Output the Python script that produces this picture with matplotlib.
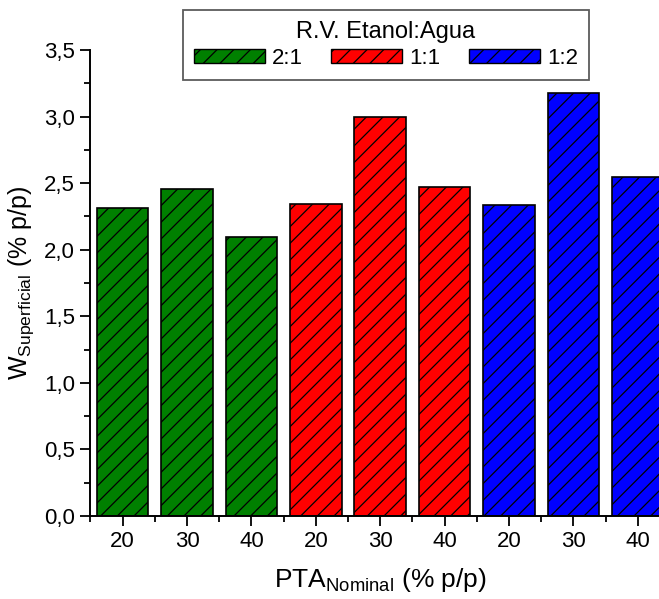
import matplotlib
matplotlib.use("Agg")
import matplotlib.pyplot as plt
from matplotlib.ticker import MultipleLocator, FuncFormatter, FixedLocator
from matplotlib.patches import Patch

plt.rcParams['font.family'] = ['Liberation Sans', 'DejaVu Sans']
plt.rcParams['hatch.linewidth'] = 0.9
plt.rcParams['hatch.color'] = 'black'

# Data
ratios = ["2:1", "1:1", "1:2"]
pta_levels = ["20", "30", "40"]
w_21 = [2.316, 2.457, 2.096]
w_11 = [2.345, 3.00, 2.472]
w_12 = [2.335, 3.176, 2.547]
colors = ["#008000", "#FF0000", "#0000FF"]

series = [w_21, w_11, w_12]

fig = plt.figure(figsize=(6.59, 5.99), dpi=100)
# axes extends slightly past the right edge of the canvas
ax = fig.add_axes([90.4 / 659, 83 / 599, 9 * 64.4 / 659, 466 / 599])

pos = 1
tick_pos, tick_lab = [], []
for vals, col in zip(series, colors):
    xs = list(range(pos, pos + len(vals)))
    ax.bar(xs, vals, width=0.8, color=col, edgecolor='black',
           linewidth=1.2, hatch='//')
    tick_pos += xs
    tick_lab += pta_levels
    pos += len(vals)

ax.set_xlim(0.5, 9.5)
ax.set_ylim(0, 3.5)

ax.set_xticks(tick_pos)
ax.set_xticklabels(tick_lab)
ax.xaxis.set_minor_locator(FixedLocator([p + 0.5 for p in range(0, 10)]))
ax.yaxis.set_major_locator(MultipleLocator(0.5))
ax.yaxis.set_minor_locator(MultipleLocator(0.25))
ax.yaxis.set_major_formatter(FuncFormatter(lambda v, _: f"{v:.1f}".replace('.', ',')))

ax.tick_params(axis='both', which='major', direction='out', length=7,
               width=1.3, labelsize=16, pad=4)
ax.tick_params(axis='both', which='minor', direction='out', length=4, width=1.3)

for side in ('top', 'right'):
    ax.spines[side].set_visible(False)
for side in ('left', 'bottom'):
    ax.spines[side].set_linewidth(1.4)

ax.set_xlabel(r"PTA$_{\mathregular{Nominal}}$ (% p/p)", fontsize=19, labelpad=10)
ax.set_ylabel(r"W$_{\mathregular{Superficial}}$ (% p/p)", fontsize=18, labelpad=6)

handles = [Patch(facecolor=c, edgecolor='black', hatch='//', linewidth=1.0)
           for c in colors]
leg = fig.legend(handles, ratios, title="R.V. Etanol:Agua", ncol=3,
                 loc='upper right', bbox_to_anchor=(589 / 659, 1 - 10 / 599),
                 fontsize=16, title_fontsize=17, frameon=True, fancybox=False,
                 edgecolor='#333333', handlelength=3.2, handleheight=0.6,
                 handletextpad=0.3, columnspacing=1.3, borderpad=0.5,
                 labelspacing=0.2, borderaxespad=0)
leg.get_frame().set_linewidth(1.3)

fig.savefig("out.png", dpi=100)
